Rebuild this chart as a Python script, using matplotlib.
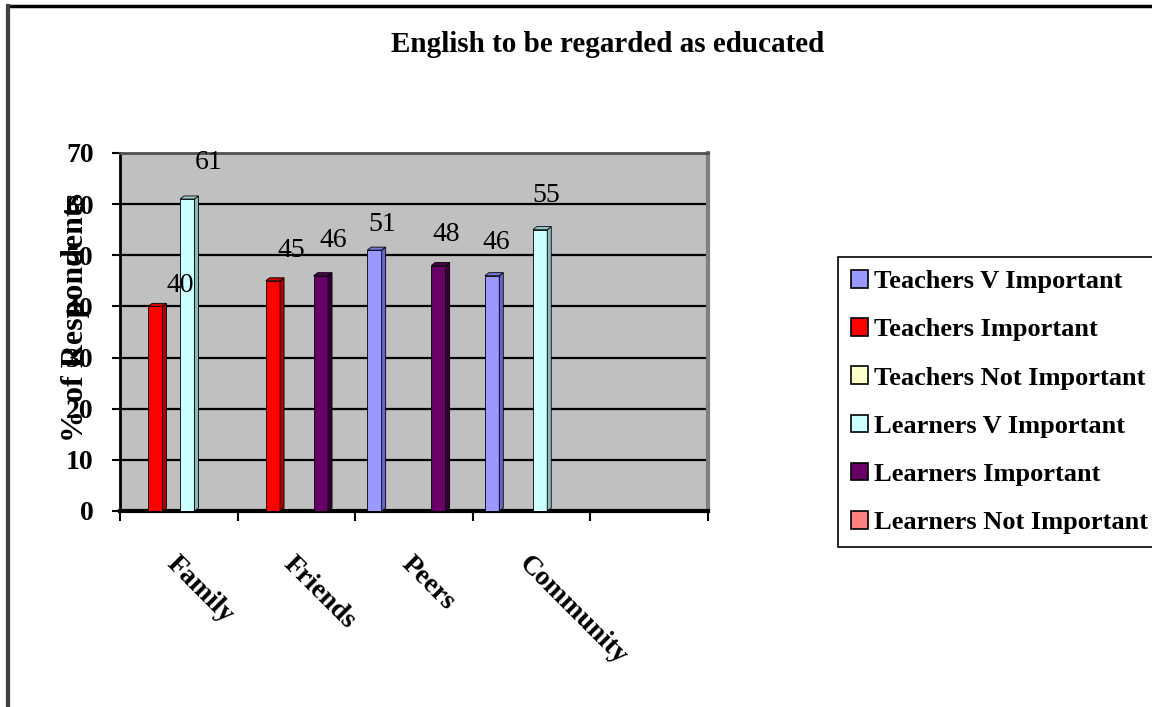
import numpy as np
import matplotlib
matplotlib.use("Agg")
from matplotlib import pyplot as plt
from matplotlib.patches import Polygon, Patch
from matplotlib.lines import Line2D
from matplotlib.transforms import ScaledTranslation

# data
categories = ["Family", "Friends", "Peers", "Community", ""]
series_names = ["Teachers V Important", "Teachers Important", "Teachers Not Important",
                "Learners V Important", "Learners Important", "Learners Not Important"]
nan = np.nan
teachers_v_imp = [nan, nan, 51, 46, nan]
teachers_imp = [40, 45, nan, nan, nan]
teachers_not_imp = [nan, nan, nan, nan, nan]
learners_v_imp = [61, nan, nan, 55, nan]
learners_imp = [nan, 46, 48, nan, nan]
learners_not_imp = [nan, nan, nan, nan, nan]
values = [teachers_v_imp, teachers_imp, teachers_not_imp,
          learners_v_imp, learners_imp, learners_not_imp]

# face / side / top colours (excel 3d look)
face_col = ["#9999FF", "#FF0000", "#FFFFCC", "#CCFFFF", "#660066", "#FF8080"]
side_col = ["#6666CC", "#B00000", "#CCCC99", "#88BBBB", "#330033", "#CC6060"]
top_col = ["#7777DD", "#CC0000", "#DDDDAA", "#99CCCC", "#4D004D", "#DD7070"]

# label offsets (pixels) from top centre of bar, per (series, category)
label_off = {(3, 0): (21, 37), (1, 0): (25, 21), (1, 1): (18, 30), (4, 1): (12, 35),
             (0, 2): (8, 26), (4, 2): (8, 31), (0, 3): (4, 33), (3, 3): (6, 34)}

SERIF = "Liberation Serif"
W, H = 1152, 707
fig = plt.figure(figsize=(W / 100, H / 100), dpi=100)
ax = fig.add_axes([120 / W, 196 / H, 588 / W, 358 / H])
ax.set_facecolor("#C0C0C0")

step = 0.136
face_w = 0.122
depth_x = 0.034
depth_y = 0.6

x = np.arange(len(categories))
for i, vals in enumerate(values):
    v = np.array(vals, dtype=float)
    ok = ~np.isnan(v)
    if not ok.any():
        continue
    pos = x[ok] + (i - 2.5) * step + 0.004
    bars = ax.bar(pos, v[ok], width=face_w, color=face_col[i], edgecolor="black",
                  linewidth=0.6, zorder=3)
    for b, j in zip(bars, x[ok]):
        x0, x1, h = b.get_x(), b.get_x() + b.get_width(), b.get_height()
        ax.add_patch(Polygon([(x1, 0), (x1, h), (x1 + depth_x, h + depth_y), (x1 + depth_x, depth_y)],
                             closed=True, facecolor=side_col[i], edgecolor="black", lw=0.6, zorder=3))
        ax.add_patch(Polygon([(x0, h), (x0 + depth_x, h + depth_y), (x1 + depth_x, h + depth_y), (x1, h)],
                             closed=True, facecolor=top_col[i], edgecolor="black", lw=0.6, zorder=3))
        dx, dy = label_off.get((i, j), (10, 30))
        ax.annotate(f"{h:.0f}", (b.get_x() + b.get_width() / 2, h), xytext=(dx, dy),
                    textcoords="offset pixels", ha="center", va="center",
                    fontsize=20, family=SERIF, color="black", zorder=5)

ax.set_xlim(-0.5, len(categories) - 0.5)
ax.set_ylim(0, 70)
ax.set_yticks(np.arange(0, 71, 10))
ax.yaxis.grid(True, color="black", lw=1.6, zorder=1)
ax.set_axisbelow(True)

ax.set_xticks(x)
ax.set_xticklabels(categories, rotation=-45, ha="left", va="top", rotation_mode="anchor",
                   fontsize=20, family=SERIF, fontweight="bold")
shift = ScaledTranslation(6 / 100, 0, fig.dpi_scale_trans)
for lab in ax.get_xticklabels():
    lab.set_transform(lab.get_transform() + shift)
ax.set_xticks(np.arange(-0.5, len(categories), 1), minor=True)
ax.tick_params(axis="x", which="major", length=0, pad=29)
ax.tick_params(axis="x", which="minor", length=7, width=1.5, direction="out")
ax.tick_params(axis="y", length=6, width=1.5, pad=13)
for lab in ax.get_yticklabels():
    lab.set_fontsize(20)
    lab.set_family(SERIF)
    lab.set_fontweight("bold")

ax.spines["left"].set_linewidth(2)
ax.spines["bottom"].set_linewidth(3)
ax.spines["top"].set_color("#505050")
ax.spines["top"].set_linewidth(2)
ax.spines["right"].set_color("#808080")
ax.spines["right"].set_linewidth(3)

fig.text(608 / W, 1 - 45 / H, "English to be regarded as educated", ha="center", va="center",
         fontsize=21, family=SERIF, fontweight="bold")
fig.text(75 / W, 1 - 318 / H, "% of Respondents", rotation=90, ha="center", va="center",
         fontsize=23, family=SERIF, fontweight="bold")

handles = [Patch(facecolor=c, edgecolor="black", lw=1.2) for c in face_col]
leg = fig.legend(handles, series_names, loc="upper left", bbox_to_anchor=(838 / W, 1 - 257 / H),
                 frameon=True, fancybox=False, edgecolor="black", framealpha=1,
                 prop={"family": SERIF, "weight": "bold", "size": 19},
                 handlelength=0.65, handleheight=0.65, handletextpad=0.2,
                 labelspacing=0.95, borderpad=0.5, borderaxespad=0)
leg.get_frame().set_linewidth(1.2)

# outer border of the chart
fig.add_artist(Line2D([8 / W, 1], [1 - 6 / H, 1 - 6 / H], color="black", lw=2.5))
fig.add_artist(Line2D([8 / W, 8 / W], [0, 1 - 6 / H], color="#404040", lw=3))

fig.savefig("out.png", dpi=100)
